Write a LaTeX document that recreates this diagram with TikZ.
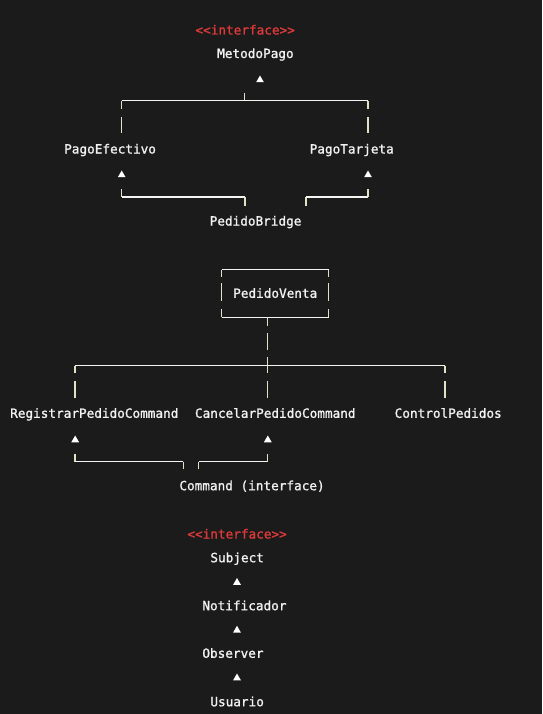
\documentclass[tikz,border=0pt]{standalone}
\usepackage{fontspec}
\setmonofont[FakeBold=1.2]{DejaVu Sans Mono}
\usetikzlibrary{shapes.geometric}
\definecolor{bg}{HTML}{1B1B1B}
\definecolor{txt}{HTML}{F2F2F2}
\definecolor{ired}{HTML}{DC3A3A}
\definecolor{vbar}{HTML}{E2E2C6}
\definecolor{hbar}{HTML}{F4F4F4}
\tikzset{
  lbl/.style={anchor=west, inner sep=0pt, text height=9pt, text depth=0pt,
    font=\ttfamily\fontsize{12.7pt}{14pt}\selectfont, text=txt},
  stereo/.style={lbl, text=ired},
  tri/.style={regular polygon, regular polygon sides=3, minimum size=9pt,
    inner sep=0pt, fill=white, draw=none},
  vl/.style={draw=vbar, line width=1.2pt},
  hl/.style={draw=hbar, line width=1.1pt},
}
\begin{document}
\begin{tikzpicture}[x=1pt,y=-1pt]
\fill[bg] (0,0) rectangle (542,714);
\useasboundingbox (0,0) rectangle (542,714);

% ---------- Bridge ----------
\node[stereo] (i1) at (195.3,30) {<<interface>>};
\node[lbl] (mp) at (217,53.5) {MetodoPago};
\node[tri] (t1) at (260,80) {};
\node[lbl] (pe) at (64,149) {PagoEfectivo};
\node[lbl] (pt) at (309.5,149) {PagoTarjeta};
\node[tri] (t2) at (121.7,175) {};
\node[tri] (t3) at (368,175) {};
\node[lbl] (pb) at (209.5,221) {PedidoBridge};

\draw[vl] (244.7,93) -- (244.7,101);
\draw[hl] (121.7,100.7) -- (368,100.7);
\draw[vl] (121.7,100.7) -- (121.7,109) (121.7,117) -- (121.7,133);
\draw[vl] (368,100.7) -- (368,109) (368,117) -- (368,133);
\draw[vl] (121.7,189) -- (121.7,197);
\draw[hl] (121.7,197) -- (245,197);
\draw[vl] (245,197) -- (245,206);
\draw[vl] (306,206) -- (306,197);
\draw[hl] (306,197) -- (368,197);
\draw[vl] (368,197) -- (368,189);

% ---------- Command ----------
\node[lbl] (pv) at (233,293.3) {PedidoVenta};
\draw[hl] (221.5,269.8) -- (328.8,269.8);
\draw[vl] (221.5,269.8) -- (221.5,277.3) (221.5,283.3) -- (221.5,300.5) (221.5,309.3) -- (221.5,317.3);
\draw[vl] (328.8,269.8) -- (328.8,277.3) (328.8,283.3) -- (328.8,300.5) (328.8,309.3) -- (328.8,317.3);
\draw[hl] (221.5,317.3) -- (328.8,317.3);

\draw[vl] (267.8,317.3) -- (267.8,325.7) (267.8,333.3) -- (267.8,350) (267.8,357.3) -- (267.8,373.3) (267.8,380.7) -- (267.8,397.7);
\draw[hl] (74.9,365.5) -- (444.9,365.5);
\draw[vl] (74.9,365.5) -- (74.9,373.3) (74.9,381) -- (74.9,398);
\draw[vl] (444.9,365.5) -- (444.9,373.3) (444.9,381) -- (444.9,398);

\node[lbl] (rp) at (10,413.3) {RegistrarPedidoCommand};
\node[lbl] (cp) at (194.8,413.3) {CancelarPedidoCommand};
\node[lbl] (ct) at (394.5,413.3) {ControlPedidos};
\node[tri] (t4) at (75.2,440) {};
\node[tri] (t5) at (267.8,440) {};

\draw[vl] (75,453.5) -- (75,461.7);
\draw[hl] (75,461.7) -- (183.3,461.7);
\draw[vl] (183.3,461.7) -- (183.3,469.3);
\draw[vl] (198.5,469.3) -- (198.5,461.7);
\draw[hl] (198.5,461.7) -- (267.8,461.7);
\draw[vl] (267.8,461.7) -- (267.8,453.5);

\node[lbl] (cm) at (179.2,485.7) {Command (interface)};

% ---------- Observer ----------
\node[stereo] (i2) at (187.2,534) {<<interface>>};
\node[lbl] (sb) at (210.2,557.7) {Subject};
\node[tri] (t6) at (237,582.5) {};
\node[lbl] (nt) at (202.2,605.7) {Notificador};
\node[tri] (t7) at (237,630.3) {};
\node[lbl] (ob) at (202.2,653.3) {Observer};
\node[tri] (t8) at (237,678) {};
\node[lbl] (us) at (210.2,701.7) {Usuario};
\end{tikzpicture}
\end{document}
